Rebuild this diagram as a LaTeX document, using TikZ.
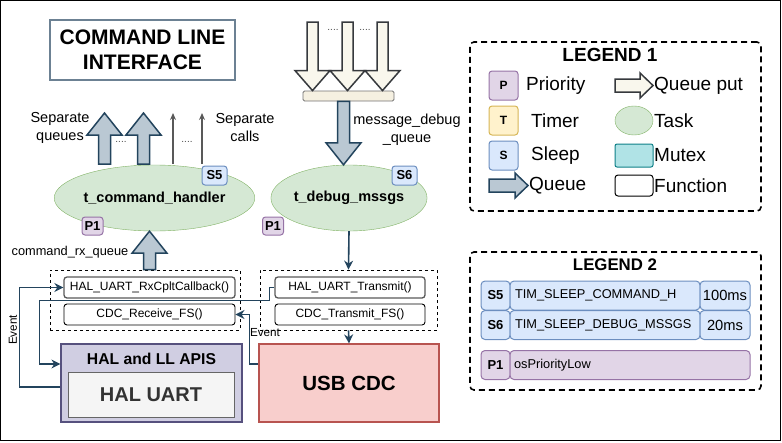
\documentclass[tikz,border=0pt]{standalone}
\usepackage{fontspec}
\setmainfont{Liberation Sans}
\usetikzlibrary{arrows.meta,calc,shapes.geometric}

\definecolor{qfill}{HTML}{BAC8D3}
\definecolor{qline}{HTML}{23445D}
\definecolor{putfill}{HTML}{F9F7ED}
\definecolor{putline}{HTML}{36393D}
\definecolor{taskfill}{HTML}{D5E8D4}
\definecolor{taskline}{HTML}{82B366}
\definecolor{prifill}{HTML}{E1D5E7}
\definecolor{priline}{HTML}{9673A6}
\definecolor{timfill}{HTML}{FFF2CC}
\definecolor{timline}{HTML}{D6B656}
\definecolor{slpfill}{HTML}{DAE8FC}
\definecolor{slpline}{HTML}{6C8EBF}
\definecolor{mtxfill}{HTML}{B0E3E6}
\definecolor{mtxline}{HTML}{0E8088}
\definecolor{halfill}{HTML}{D0CEE2}
\definecolor{halline}{HTML}{56517E}
\definecolor{usbfill}{HTML}{F8CECC}
\definecolor{usbline}{HTML}{B85450}
\definecolor{cliline}{HTML}{6C8193}
\definecolor{barfill}{HTML}{F5F0E1}

\tikzset{
  blockarrow/.style n args={3}{to path={
    ($(\tikztostart)!#1!-90:(\tikztotarget)$)
    -- ($(\tikztotarget)!#3!(\tikztostart)!#1!-90:(\tikztotarget)$)
    -- ($(\tikztotarget)!#3!(\tikztostart)!#2!-90:(\tikztotarget)$)
    -- (\tikztotarget)
    -- ($(\tikztotarget)!#3!(\tikztostart)!#2!90:(\tikztotarget)$)
    -- ($(\tikztotarget)!#3!(\tikztostart)!#1!90:(\tikztotarget)$)
    -- ($(\tikztostart)!#1!90:(\tikztotarget)$) -- cycle}},
  queue/.style={blockarrow={6pt}{17.5pt}{22pt}, fill=qfill, draw=qline, line width=1.5pt, line join=miter},
  putq/.style={blockarrow={5.5pt}{17.5pt}{20pt}, fill=putfill, draw=putline, line width=1.5pt, line join=miter},
  task/.style={ellipse, draw=taskline, fill=taskfill, minimum width=155pt, minimum height=66pt, inner sep=0pt, font=\bfseries\fontsize{14.5}{17}\selectfont},
  badge/.style={draw=#1line, fill=#1fill, rounded corners=3pt, inner sep=0pt, line width=1pt, font=\bfseries\fontsize{13}{15}\selectfont},
  func/.style={draw, rounded corners=3pt, inner sep=0pt, line width=0.9pt, minimum height=21pt, font=\fontsize{12}{14}\selectfont},
  group/.style={draw, dash pattern=on 3pt off 3pt, line width=0.8pt, inner sep=0pt},
  legendbox/.style={draw, dash pattern=on 6pt off 4pt, line width=1.6pt, rounded corners=4pt, inner sep=0pt},
  link/.style={draw=qline, line width=1.6pt, -{Stealth[length=9pt,width=9pt]}},
  call/.style={draw=black!65, line width=1.6pt, -{Stealth[length=7pt,width=6pt]}},
  note/.style={align=center, font=\fontsize{14.5}{18}\selectfont},
  dots/.style={font=\fontsize{10}{10}\selectfont, text=black!70},
  leg/.style={anchor=west, inner sep=0pt, font=\fontsize{19}{22}\selectfont},
  cell/.style={draw=#1line, fill=#1fill, rounded corners=4pt, minimum height=29pt, line width=1pt}
}

\begin{document}
\begin{tikzpicture}[x=1pt, y=-1pt]
  \useasboundingbox (0,0) rectangle (782,442);
  \draw[line width=1pt] (0.5,0.5) rectangle (780,440);

  \node[draw=cliline, line width=1.2pt, minimum width=185pt, minimum height=60pt, align=center,
        font=\bfseries\fontsize{21}{25}\selectfont] (cli) at (142.5,50) {COMMAND LINE\\INTERFACE};

  \node[task] (cmdtask) at (154.5,198) {t\_command\_handler};
  \node[task] (dbgtask) at (349,198) {t\_debug\_mssgs};
  \node[badge=slp, minimum width=25pt, minimum height=19pt] (s5) at (214.5,175.5) {S5};
  \node[badge=slp, minimum width=25pt, minimum height=19pt] (s6) at (404.5,175.5) {S6};
  \node[badge=pri, minimum width=21pt, minimum height=18pt] (p1a) at (92.5,226) {P1};
  \node[badge=pri, minimum width=21pt, minimum height=18pt] (p1b) at (273,226) {P1};

  \node[note] (sepq) at (60,128) {Separate\\queues};
  \node[note] (sepc) at (245,128) {Separate\\calls};
  \node[dots] (d1) at (121,142) {....};
  \node[dots] (d2) at (187,142) {....};
  \coordinate (sq1) at (104.5,164);
  \coordinate (sq2) at (143.5,164);
  \draw[queue] (sq1) to ($(sq1)+(0,-51)$);
  \draw[queue] (sq2) to ($(sq2)+(0,-51)$);
  \coordinate (sc1) at (173,164);
  \coordinate (sc2) at (202,164);
  \draw[call] (sc1) -- ($(sc1)+(0,-51)$);
  \draw[call] (sc2) -- ($(sc2)+(0,-51)$);

  \node[dots] (d3) at (333,30) {....};
  \node[dots] (d4) at (365,30) {....};
  \node[draw=black!55, fill=barfill, rounded corners=1.5pt, line width=0.9pt, minimum width=91pt, minimum height=10pt, inner sep=0pt] (bar) at (348.5,96) {};
  \coordinate (qp1) at (312.5,22);
  \coordinate (qp2) at (347.5,22);
  \coordinate (qp3) at (382.5,22);
  \draw[putq] (qp1) to (qp1 |- bar.north);
  \draw[putq] (qp2) to (qp2 |- bar.north);
  \draw[putq] (qp3) to (qp3 |- bar.north);
  \coordinate (dq) at (343.5,0);
  \draw[queue] (dq |- bar.south) to (dq |- dbgtask.north);
  \node[note] (dqlabel) at (407,130) {message\_debug\\\_queue};

  \node[group, minimum width=190pt, minimum height=60pt] (cmdgrp) at (145,300) {};
  \node[group, minimum width=177pt, minimum height=60pt] (txgrp) at (348.5,300) {};
  \node[func, draw=black!65, line width=1.3pt, minimum width=171pt] (rxcb) at (149.5,287.5) {HAL\_UART\_RxCpltCallback()};
  \node[func, minimum width=171pt] (cdcrx) at (149.5,314.5) {CDC\_Receive\_FS()};
  \node[func, draw=black!65, line width=1.3pt, minimum width=150pt] (uarttx) at (350,287.5) {HAL\_UART\_Transmit()};
  \node[func, minimum width=150pt] (cdctx) at (350,314.5) {CDC\_Transmit\_FS()};
  \coordinate (rxq) at (149.5,0);
  \draw[queue] (rxq |- cmdgrp.north) to (rxq |- cmdtask.south);
  \node[font=\fontsize{12.8}{15}\selectfont] (rxlabel) at (70,252) {command\_rx\_queue};

  \node[draw=halline, fill=halfill, line width=1.2pt, minimum width=181pt, minimum height=78pt] (hal) at (151.5,383) {};
  \node[font=\bfseries\fontsize{15.7}{18}\selectfont] (haltitle) at (151.5,359) {HAL and LL APIS};
  \node[draw=black!60, fill=black!4, line width=1pt, minimum width=166pt, minimum height=45pt, text=black!80,
        font=\bfseries\fontsize{20}{24}\selectfont] (uart) at (151,394.5) {HAL UART};
  \node[draw=usbline, fill=usbfill, line width=1.2pt, minimum width=180pt, minimum height=78pt,
        font=\bfseries\fontsize{20.5}{24}\selectfont] (usb) at (349,383) {USB CDC};

  \draw[link] ([yshift=-4pt]hal.west) -- ++(-41,0) |- (rxcb.west);
  \draw[link] (uarttx.west) -- ++(-5,0) -- ++(0,13) -- ++(-230,0) |- ([yshift=19pt]hal.west);
  \draw[link] ([yshift=19pt]usb.west) -- ++(-9,0) |- (cdcrx.east);
  \draw[link] (dbgtask.south) -- (txgrp.north);
  \draw[link] (txgrp.south) -- (usb.north);
  \node[font=\fontsize{11.7}{14}\selectfont, rotate=90] (evleft) at (13,330) {Event};
  \node[font=\fontsize{11.7}{14}\selectfont] (evright) at (265,333) {Event};

  \node[legendbox, minimum width=291pt, minimum height=169pt] (leg1) at (615.5,126.5) {};
  \node[font=\bfseries\fontsize{19}{22}\selectfont] (leg1t) at (610,55) {LEGEND 1};
  \node[badge=pri, minimum width=29pt, minimum height=29pt, font=\bfseries\fontsize{12}{14}\selectfont] (lp) at (503.5,85.5) {P};
  \node[badge=tim, minimum width=29pt, minimum height=29pt, font=\bfseries\fontsize{12}{14}\selectfont] (lt) at (503.5,120.5) {T};
  \node[badge=slp, minimum width=29pt, minimum height=29pt, font=\bfseries\fontsize{12}{14}\selectfont] (ls) at (503.5,155.5) {S};
  \coordinate (lq) at (489,185.5);
  \draw[blockarrow={6.5pt}{12.5pt}{13pt}, fill=qfill, draw=qline, line width=1.5pt] (lq) to ($(lq)+(39,0)$);
  \node[leg] (lpt) at (526,85.5) {Priority};
  \node[leg] (ltt) at (531,120.5) {Timer};
  \node[leg] (lst) at (531,155.5) {Sleep};
  \node[leg] (lqt) at (529,186) {Queue};
  \coordinate (lput) at (615,85.5);
  \draw[blockarrow={6.5pt}{12.5pt}{13pt}, fill=putfill, draw=putline, line width=1.5pt] (lput) to ($(lput)+(38,0)$);
  \node[ellipse, draw=taskline, fill=taskfill, minimum width=38pt, minimum height=29pt, inner sep=0pt] (ltask) at (634,120.5) {};
  \node[draw=mtxline, fill=mtxfill, rounded corners=2pt, line width=1pt, minimum width=38pt, minimum height=23pt, inner sep=0pt] (lmtx) at (634,155.5) {};
  \node[draw, rounded corners=3pt, line width=1pt, minimum width=38pt, minimum height=21pt, inner sep=0pt] (lfun) at (634,185.5) {};
  \node[leg] (lputt) at (654,85.5) {Queue put};
  \node[leg] (ltaskt) at (654,120.5) {Task};
  \node[leg] (lmtxt) at (654,155.5) {Mutex};
  \node[leg] (lfunt) at (654,186) {Function};

  \node[legendbox, minimum width=291pt, minimum height=138pt] (leg2) at (615.5,321) {};
  \node[font=\bfseries\fontsize{16.8}{20}\selectfont] (leg2t) at (615,265) {LEGEND 2};
  \node[cell=slp, minimum width=29pt, inner sep=0pt, font=\bfseries\fontsize{13}{15}\selectfont] (c5a) at (495.5,295.5) {S5};
  \node[cell=slp, text width=180pt, inner xsep=5pt, align=left, font=\fontsize{12.8}{15}\selectfont] (c5b) at (605,295.5) {TIM\_SLEEP\_COMMAND\_H};
  \node[cell=slp, minimum width=50pt, inner sep=0pt, font=\fontsize{14.7}{17}\selectfont] (c5c) at (725,295.5) {100ms};
  \node[cell=slp, minimum width=29pt, inner sep=0pt, font=\bfseries\fontsize{13}{15}\selectfont] (c6a) at (495.5,325) {S6};
  \node[cell=slp, text width=180pt, inner xsep=5pt, align=left, font=\fontsize{12.8}{15}\selectfont] (c6b) at (605,325) {TIM\_SLEEP\_DEBUG\_MSSGS};
  \node[cell=slp, minimum width=50pt, inner sep=0pt, font=\fontsize{14.7}{17}\selectfont] (c6c) at (725,325) {20ms};
  \node[cell=pri, minimum width=29pt, inner sep=0pt, font=\bfseries\fontsize{13}{15}\selectfont] (c1a) at (495.5,365) {P1};
  \node[cell=pri, text width=232pt, inner xsep=4pt, align=left, font=\fontsize{12.8}{15}\selectfont] (c1b) at (630,365) {osPriorityLow};
\end{tikzpicture}
\end{document}
